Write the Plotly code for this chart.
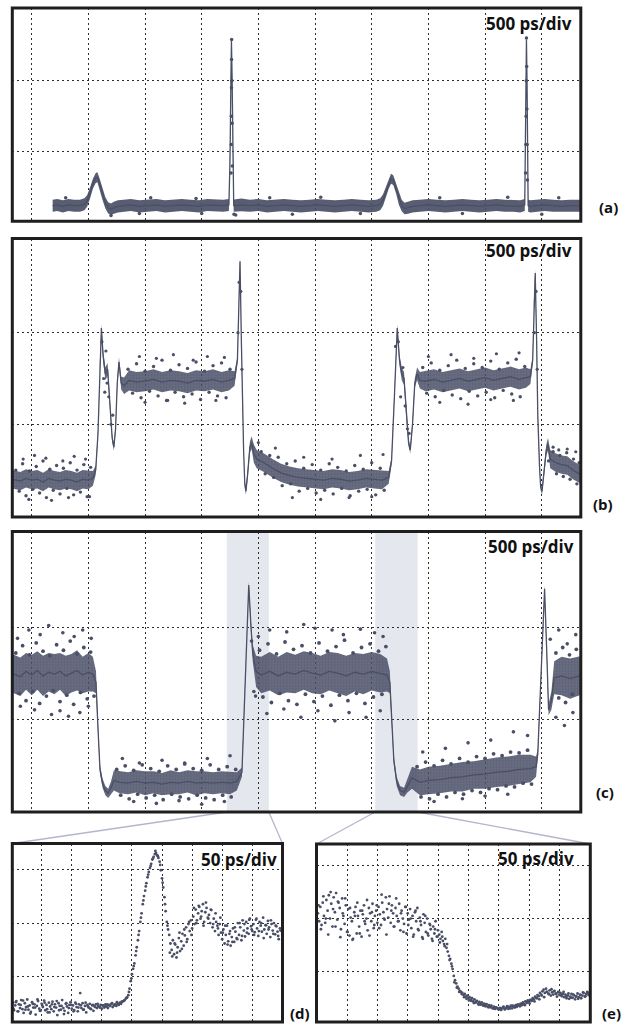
import plotly.graph_objects as go

W, H = 627, 1024
INK = "#4a4f66"
BAND = "rgba(74,79,102,0.92)"
BAND_BG = "rgba(74,79,102,0.80)"
FRAME = "#1e1e1e"
GRID = "#2e2e2e"
HILITE = "#e5e7ee"
LINK = "#b3b7cb"

# ---------------- data ----------------
grid_x_full = [1, 2, 3, 4, 5, 6, 7, 8, 9, 10]
grid_y_full = [1, 2]
grid_x_zoom = [1, 2, 3, 4, 5, 6, 7, 8]
grid_y_zoom = [1, 2, 3]

scale_labels = ["500 ps/div", "500 ps/div", "500 ps/div", "50 ps/div", "50 ps/div"]
panel_tags = ["(a)", "(b)", "(c)", "(d)", "(e)"]

# (time [div], trace centre, half-width of the dense noise band)
a_trace = [
    (1.37, 0.24, 0.085), (1.45, 0.25, 0.085), (1.55, 0.23, 0.085), (1.65, 0.25, 0.085), (1.75, 0.24, 0.085),
    (1.85, 0.24, 0.085), (1.93, 0.26, 0.085), (1.98, 0.31, 0.08), (2.03, 0.42, 0.08), (2.08, 0.55, 0.07),
    (2.13, 0.63, 0.07), (2.16, 0.64, 0.07), (2.20, 0.55, 0.07), (2.25, 0.40, 0.08), (2.30, 0.28, 0.08),
    (2.35, 0.21, 0.08), (2.40, 0.19, 0.08), (2.45, 0.21, 0.085), (2.52, 0.23, 0.085), (2.62, 0.24, 0.085),
    (2.75, 0.25, 0.085), (2.90, 0.23, 0.085), (3.05, 0.24, 0.085), (3.20, 0.25, 0.085), (3.35, 0.23, 0.085),
    (3.50, 0.24, 0.085), (3.65, 0.25, 0.085), (3.80, 0.24, 0.085), (3.95, 0.23, 0.085), (4.10, 0.25, 0.085),
    (4.25, 0.24, 0.085), (4.38, 0.24, 0.085), (4.48, 0.25, 0.085),
    (4.50, 0.90, 0.02), (4.515, 2.00, 0.02), (4.525, 2.56, 0.02), (4.535, 2.10, 0.02), (4.55, 0.90, 0.02),
    (4.565, 0.24, 0.085), (4.60, 0.24, 0.09), (4.70, 0.25, 0.09), (4.85, 0.24, 0.085), (5.00, 0.25, 0.085),
    (5.15, 0.23, 0.085), (5.30, 0.24, 0.085), (5.45, 0.25, 0.085), (5.60, 0.24, 0.085), (5.75, 0.23, 0.085),
    (5.90, 0.24, 0.085), (6.05, 0.25, 0.085), (6.20, 0.24, 0.085), (6.35, 0.23, 0.085), (6.50, 0.24, 0.085),
    (6.65, 0.25, 0.085), (6.80, 0.24, 0.085), (6.95, 0.23, 0.085), (7.08, 0.24, 0.085), (7.15, 0.26, 0.085),
    (7.20, 0.32, 0.08), (7.25, 0.43, 0.07), (7.30, 0.55, 0.07), (7.34, 0.62, 0.07), (7.38, 0.60, 0.07),
    (7.43, 0.48, 0.07), (7.48, 0.33, 0.08), (7.53, 0.24, 0.08), (7.58, 0.20, 0.08), (7.64, 0.21, 0.085),
    (7.72, 0.23, 0.085), (7.85, 0.24, 0.085), (8.00, 0.25, 0.085), (8.15, 0.24, 0.085), (8.30, 0.23, 0.085),
    (8.45, 0.24, 0.085), (8.60, 0.25, 0.085), (8.75, 0.24, 0.085), (8.90, 0.23, 0.085), (9.05, 0.24, 0.085),
    (9.20, 0.25, 0.085), (9.35, 0.24, 0.085), (9.50, 0.24, 0.085), (9.62, 0.23, 0.085), (9.70, 0.25, 0.085),
    (9.71, 0.90, 0.02), (9.72, 2.00, 0.02), (9.73, 2.58, 0.02), (9.74, 2.00, 0.02), (9.75, 0.90, 0.02),
    (9.76, 0.24, 0.085), (9.80, 0.23, 0.085), (9.92, 0.24, 0.085), (10.05, 0.25, 0.085), (10.20, 0.24, 0.085),
    (10.35, 0.23, 0.085), (10.50, 0.24, 0.085), (10.70, 0.24, 0.085),
]
a_dots = [
    (4.518, 0.7), (4.521, 1.1), (4.523, 1.5), (4.525, 1.9), (4.527, 2.3), (4.528, 2.58), (4.532, 2.0),
    (4.536, 1.4), (4.54, 0.8), (9.715, 0.7), (9.72, 1.1), (9.724, 1.5), (9.727, 2.0), (9.73, 2.6),
    (9.734, 2.2), (9.738, 1.6), (9.742, 1.1), (9.746, 0.6), (4.57, 0.12), (4.60, 0.11), (2.40, 0.10),
    (1.6, 0.35), (3.1, 0.35), (3.9, 0.34), (5.2, 0.35), (6.1, 0.36), (8.2, 0.35), (9.4, 0.36), (10.3, 0.35),
    (2.9, 0.13), (4.0, 0.13), (5.6, 0.12), (6.8, 0.13), (8.6, 0.13), (10.0, 0.12),
]

b_trace = [
    (0.66, 0.40, 0.10), (0.80, 0.38, 0.10), (0.90, 0.41, 0.10), (1.00, 0.39, 0.10), (1.10, 0.40, 0.10),
    (1.20, 0.37, 0.10), (1.30, 0.41, 0.10), (1.40, 0.39, 0.10), (1.50, 0.38, 0.10), (1.60, 0.40, 0.10),
    (1.70, 0.39, 0.10), (1.80, 0.37, 0.10), (1.90, 0.40, 0.10), (2.00, 0.39, 0.10), (2.08, 0.41, 0.08),
    (2.13, 0.50, 0.05), (2.17, 0.90, 0.04), (2.20, 1.60, 0.04), (2.23, 2.05, 0.04), (2.26, 1.75, 0.06),
    (2.30, 1.55, 0.07), (2.34, 1.60, 0.07), (2.38, 1.20, 0.05), (2.42, 0.85, 0.04), (2.45, 0.75, 0.04),
    (2.48, 0.95, 0.04), (2.51, 1.45, 0.05), (2.54, 1.68, 0.05), (2.58, 1.45, 0.07), (2.63, 1.42, 0.09),
    (2.72, 1.48, 0.11), (2.85, 1.46, 0.11), (3.00, 1.47, 0.11), (3.15, 1.49, 0.11), (3.30, 1.46, 0.11),
    (3.45, 1.48, 0.11), (3.60, 1.47, 0.11), (3.75, 1.45, 0.11), (3.90, 1.48, 0.11), (4.05, 1.47, 0.11),
    (4.20, 1.49, 0.11), (4.35, 1.46, 0.11), (4.48, 1.48, 0.11), (4.58, 1.50, 0.08), (4.63, 1.70, 0.04),
    (4.655, 2.30, 0.04), (4.676, 2.78, 0.04), (4.70, 1.90, 0.04), (4.72, 1.20, 0.04), (4.74, 0.70, 0.04),
    (4.76, 0.35, 0.04), (4.78, 0.27, 0.04), (4.81, 0.45, 0.05), (4.85, 0.75, 0.06), (4.88, 0.80, 0.07),
    (4.92, 0.68, 0.10), (4.97, 0.62, 0.10), (5.10, 0.58, 0.10), (5.25, 0.52, 0.10), (5.40, 0.47, 0.10),
    (5.55, 0.44, 0.10), (5.70, 0.42, 0.10), (5.85, 0.41, 0.10), (6.00, 0.40, 0.10), (6.15, 0.39, 0.10),
    (6.30, 0.41, 0.10), (6.45, 0.40, 0.10), (6.60, 0.38, 0.10), (6.75, 0.39, 0.10), (6.90, 0.41, 0.10),
    (7.05, 0.40, 0.10), (7.18, 0.39, 0.10), (7.30, 0.42, 0.07), (7.35, 0.60, 0.04), (7.40, 1.30, 0.04),
    (7.45, 2.05, 0.04), (7.49, 1.70, 0.06), (7.53, 1.55, 0.07), (7.57, 1.50, 0.07), (7.61, 1.10, 0.05),
    (7.65, 0.80, 0.04), (7.68, 0.72, 0.04), (7.72, 1.00, 0.04), (7.76, 1.45, 0.05), (7.80, 1.55, 0.07),
    (7.85, 1.48, 0.09), (7.95, 1.47, 0.11), (8.10, 1.49, 0.11), (8.25, 1.46, 0.11), (8.40, 1.48, 0.11),
    (8.55, 1.50, 0.11), (8.70, 1.47, 0.11), (8.85, 1.49, 0.11), (9.00, 1.51, 0.11), (9.15, 1.48, 0.11),
    (9.30, 1.50, 0.11), (9.45, 1.52, 0.11), (9.60, 1.49, 0.11), (9.72, 1.51, 0.11), (9.80, 1.52, 0.08),
    (9.84, 1.70, 0.04), (9.86, 2.30, 0.04), (9.885, 2.65, 0.04), (9.91, 1.90, 0.04), (9.93, 1.10, 0.04),
    (9.96, 0.55, 0.04), (9.98, 0.32, 0.04), (10.005, 0.27, 0.04), (10.04, 0.45, 0.05), (10.08, 0.72, 0.06),
    (10.11, 0.78, 0.07), (10.15, 0.62, 0.10), (10.25, 0.58, 0.10), (10.35, 0.56, 0.10), (10.45, 0.55, 0.10),
    (10.55, 0.50, 0.10), (10.72, 0.44, 0.10),
]
b_dots = [
    (0.85, 0.62), (1.05, 0.66), (1.25, 0.63), (1.55, 0.60), (1.75, 0.65), (1.95, 0.62),
    (0.95, 0.18), (1.35, 0.17), (1.65, 0.20), (2.02, 0.21),
    (2.24, 1.90), (2.27, 1.50), (2.29, 1.35), (2.31, 1.80), (2.33, 1.45), (2.36, 1.30), (2.40, 1.00), (2.43, 1.10),
    (2.90, 1.74), (3.20, 1.72), (3.50, 1.76), (3.85, 1.70), (4.10, 1.74), (4.40, 1.73),
    (3.00, 1.24), (3.40, 1.26), (3.70, 1.23), (4.25, 1.26),
    (4.64, 2.00), (4.66, 2.55), (4.69, 2.45), (4.71, 1.60),
    (5.00, 0.80), (5.30, 0.74), (5.80, 0.64), (6.30, 0.62), (6.80, 0.66), (7.20, 0.67),
    (5.60, 0.20), (6.10, 0.18), (6.60, 0.20), (7.00, 0.21),
    (7.42, 1.85), (7.47, 1.90), (7.51, 1.30), (7.55, 1.62), (7.59, 1.20), (7.63, 0.95), (7.66, 0.90),
    (8.00, 1.74), (8.40, 1.76), (8.80, 1.72), (9.20, 1.77), (9.60, 1.78),
    (8.20, 1.24), (8.70, 1.22), (9.10, 1.27), (9.50, 1.26),
    (9.87, 2.00), (9.90, 2.45), (9.92, 1.60),
    (10.12, 0.60), (10.20, 0.75), (10.30, 0.72), (10.45, 0.73), (10.60, 0.70),
]
# ragged fringe of the noise cloud in (b)
b_fringe = [
    (0.72, 0.50), (0.84, 0.57), (0.96, 0.49), (1.08, 0.54), (1.20, 0.60), (1.32, 0.51), (1.44, 0.55),
    (1.56, 0.52), (1.68, 0.58), (1.80, 0.50), (1.92, 0.56), (2.04, 0.53),
    (0.78, 0.27), (0.90, 0.22), (1.02, 0.29), (1.14, 0.25), (1.26, 0.20), (1.38, 0.28), (1.50, 0.24),
    (1.62, 0.30), (1.74, 0.23), (1.86, 0.26), (1.98, 0.21),
    (2.70, 1.60), (2.85, 1.66), (3.00, 1.58), (3.15, 1.63), (3.30, 1.70), (3.45, 1.59), (3.60, 1.65),
    (3.75, 1.61), (3.90, 1.68), (4.05, 1.58), (4.20, 1.64), (4.35, 1.67), (4.50, 1.60),
    (2.78, 1.34), (2.93, 1.29), (3.08, 1.36), (3.23, 1.31), (3.38, 1.26), (3.53, 1.35), (3.68, 1.30),
    (3.83, 1.33), (3.98, 1.27), (4.13, 1.35), (4.28, 1.31), (4.43, 1.29),
    (5.05, 0.70), (5.20, 0.66), (5.35, 0.64), (5.50, 0.57), (5.65, 0.60), (5.80, 0.52), (5.95, 0.56),
    (6.10, 0.50), (6.25, 0.57), (6.40, 0.53), (6.55, 0.49), (6.70, 0.55), (6.85, 0.51), (7.00, 0.58), (7.15, 0.52),
    (5.12, 0.46), (5.27, 0.42), (5.42, 0.33), (5.57, 0.35), (5.72, 0.27), (5.87, 0.30), (6.02, 0.25),
    (6.17, 0.28), (6.32, 0.24), (6.47, 0.30), (6.62, 0.22), (6.77, 0.27), (6.92, 0.29), (7.07, 0.23), (7.22, 0.28),
    (7.90, 1.62), (8.05, 1.67), (8.20, 1.59), (8.35, 1.64), (8.50, 1.70), (8.65, 1.61), (8.80, 1.66),
    (8.95, 1.62), (9.10, 1.69), (9.25, 1.60), (9.40, 1.67), (9.55, 1.71), (9.70, 1.63),
    (7.97, 1.34), (8.12, 1.30), (8.27, 1.37), (8.42, 1.32), (8.57, 1.28), (8.72, 1.36), (8.87, 1.31),
    (9.02, 1.35), (9.17, 1.29), (9.32, 1.37), (9.47, 1.33), (9.62, 1.30),
    (10.20, 0.70), (10.32, 0.66), (10.44, 0.69), (10.56, 0.62), (10.66, 0.58),
    (10.26, 0.46), (10.38, 0.43), (10.50, 0.40), (10.62, 0.35),
]

c_trace = [
    (0.65, 1.50, 0.21), (0.80, 1.46, 0.21), (0.90, 1.52, 0.20), (1.00, 1.48, 0.22), (1.10, 1.53, 0.21),
    (1.20, 1.47, 0.22), (1.30, 1.51, 0.21), (1.40, 1.49, 0.22), (1.50, 1.52, 0.20), (1.60, 1.47, 0.22),
    (1.70, 1.50, 0.21), (1.80, 1.53, 0.22), (1.90, 1.48, 0.20), (2.00, 1.51, 0.21), (2.08, 1.49, 0.19),
    (2.135, 1.40, 0.12), (2.17, 0.90, 0.05), (2.205, 0.45, 0.05), (2.25, 0.30, 0.05), (2.30, 0.22, 0.05),
    (2.35, 0.19, 0.05), (2.40, 0.25, 0.07), (2.45, 0.33, 0.11), (2.55, 0.31, 0.12), (2.70, 0.30, 0.12),
    (2.85, 0.32, 0.12), (3.00, 0.30, 0.13), (3.15, 0.31, 0.12), (3.30, 0.29, 0.12), (3.45, 0.31, 0.13),
    (3.60, 0.30, 0.12), (3.75, 0.32, 0.12), (3.90, 0.30, 0.13), (4.05, 0.31, 0.12), (4.20, 0.30, 0.12),
    (4.35, 0.31, 0.12), (4.50, 0.30, 0.12), (4.62, 0.32, 0.10), (4.71, 0.42, 0.05), (4.76, 1.20, 0.04),
    (4.80, 2.00, 0.04), (4.83, 2.46, 0.04), (4.87, 2.00, 0.06), (4.90, 1.72, 0.09), (4.96, 1.52, 0.17),
    (5.05, 1.48, 0.20), (5.20, 1.52, 0.21), (5.35, 1.47, 0.21), (5.50, 1.51, 0.22), (5.65, 1.49, 0.21),
    (5.80, 1.53, 0.21), (5.95, 1.50, 0.22), (6.10, 1.48, 0.21), (6.25, 1.52, 0.21), (6.40, 1.50, 0.22),
    (6.55, 1.47, 0.22), (6.70, 1.51, 0.21), (6.85, 1.49, 0.22), (7.00, 1.52, 0.21), (7.15, 1.50, 0.21),
    (7.27, 1.48, 0.18), (7.32, 1.40, 0.12), (7.36, 0.90, 0.05), (7.39, 0.55, 0.05), (7.44, 0.32, 0.05),
    (7.50, 0.22, 0.05), (7.57, 0.20, 0.05), (7.63, 0.27, 0.07), (7.71, 0.36, 0.12), (7.85, 0.31, 0.14),
    (8.00, 0.33, 0.15), (8.20, 0.34, 0.15), (8.40, 0.36, 0.15), (8.60, 0.37, 0.16), (8.80, 0.39, 0.15),
    (9.00, 0.40, 0.16), (9.20, 0.42, 0.16), (9.40, 0.43, 0.16), (9.60, 0.45, 0.16), (9.80, 0.46, 0.15),
    (9.90, 0.48, 0.11), (9.93, 0.62, 0.05), (9.98, 1.30, 0.04), (10.03, 2.10, 0.04), (10.05, 2.42, 0.04),
    (10.09, 1.70, 0.05), (10.12, 1.10, 0.06), (10.17, 1.20, 0.10), (10.22, 1.45, 0.18), (10.35, 1.47, 0.21),
    (10.50, 1.44, 0.22), (10.72, 1.48, 0.21),
]
c_dots = [
    (0.75, 1.88), (0.95, 1.97), (1.15, 1.92), (1.30, 2.02), (1.55, 1.94), (1.75, 1.90), (1.90, 1.97), (2.05, 1.88),
    (0.80, 1.14), (1.05, 1.10), (1.35, 1.05), (1.50, 1.09), (1.65, 1.03), (1.85, 1.07), (2.00, 1.14),
    (2.60, 0.57), (2.90, 0.52), (3.30, 0.55), (3.70, 0.52), (4.10, 0.57), (4.50, 0.60),
    (2.80, 0.10), (3.20, 0.08), (3.60, 0.11), (4.00, 0.07), (4.40, 0.10),
    (4.88, 1.85), (4.92, 1.30), (4.95, 1.25), (5.00, 1.90),
    (5.20, 1.97), (5.50, 1.95), (5.80, 2.03), (6.00, 1.99), (6.30, 1.97), (6.50, 1.92), (6.80, 1.98),
    (7.05, 1.94), (7.20, 1.90),
    (5.15, 1.06), (5.45, 1.11), (5.75, 1.02), (6.05, 1.09), (6.35, 0.98), (6.60, 1.07), (6.90, 1.02), (7.15, 1.09),
    (7.90, 0.64), (8.30, 0.68), (8.70, 0.74), (9.10, 0.77), (9.50, 0.86), (9.75, 0.82),
    (8.10, 0.10), (8.60, 0.13), (9.00, 0.16), (9.40, 0.18),
    (10.15, 1.87), (10.30, 1.97), (10.45, 1.82), (10.60, 1.92), (10.25, 1.02), (10.40, 0.93), (10.55, 1.07),
]
# ragged fringe of the noise cloud in (c)
c_fringe = [
    (0.72, 1.72), (0.84, 1.80), (0.96, 1.70), (1.08, 1.83), (1.20, 1.74), (1.32, 1.69), (1.44, 1.81),
    (1.56, 1.75), (1.68, 1.85), (1.80, 1.71), (1.92, 1.78), (2.04, 1.73),
    (0.78, 1.28), (0.90, 1.20), (1.02, 1.30), (1.14, 1.17), (1.26, 1.25), (1.38, 1.31), (1.50, 1.19),
    (1.62, 1.26), (1.74, 1.16), (1.86, 1.29), (1.98, 1.22), (2.10, 1.25),
    (2.50, 0.45), (2.65, 0.49), (2.80, 0.44), (2.95, 0.50), (3.10, 0.46), (3.25, 0.43), (3.40, 0.49),
    (3.55, 0.45), (3.70, 0.51), (3.85, 0.46), (4.00, 0.44), (4.15, 0.50), (4.30, 0.45), (4.45, 0.48), (4.60, 0.45),
    (2.57, 0.17), (2.72, 0.13), (2.87, 0.18), (3.02, 0.14), (3.17, 0.17), (3.32, 0.12), (3.47, 0.18),
    (3.62, 0.15), (3.77, 0.13), (3.92, 0.17), (4.07, 0.14), (4.22, 0.12), (4.37, 0.17), (4.52, 0.15),
    (5.02, 1.75), (5.17, 1.82), (5.32, 1.71), (5.47, 1.84), (5.62, 1.76), (5.77, 1.80), (5.92, 1.72),
    (6.07, 1.83), (6.22, 1.74), (6.37, 1.79), (6.52, 1.86), (6.67, 1.72), (6.82, 1.78), (6.97, 1.82),
    (7.12, 1.74), (7.25, 1.79),
    (5.08, 1.24), (5.23, 1.18), (5.38, 1.28), (5.53, 1.20), (5.68, 1.16), (5.83, 1.27), (5.98, 1.19),
    (6.13, 1.25), (6.28, 1.15), (6.43, 1.26), (6.58, 1.20), (6.73, 1.28), (6.88, 1.17), (7.03, 1.24), (7.18, 1.27),
    (7.80, 0.48), (7.95, 0.53), (8.10, 0.49), (8.25, 0.55), (8.40, 0.51), (8.55, 0.57), (8.70, 0.53),
    (8.85, 0.59), (9.00, 0.57), (9.15, 0.62), (9.30, 0.60), (9.45, 0.64), (9.60, 0.63), (9.75, 0.66),
    (7.87, 0.15), (8.02, 0.13), (8.17, 0.18), (8.32, 0.15), (8.47, 0.20), (8.62, 0.18), (8.77, 0.22),
    (8.92, 0.20), (9.07, 0.24), (9.22, 0.23), (9.37, 0.27), (9.52, 0.26), (9.67, 0.30), (9.82, 0.29),
    (10.25, 1.72), (10.37, 1.78), (10.49, 1.70), (10.61, 1.76), (10.30, 1.23), (10.42, 1.18), (10.54, 1.27),
]

# highlighted windows of (c) that are magnified in (d) and (e)
c_window_start = [4.443, 7.061]
c_window_end = [5.184, 7.810]

# (d) and (e): sampled points (two interleaved acquisitions), first sample time and spacing in div
d_t0, d_dt = 0.04, 0.04
d_vals = [
    0.52, 0.38, 0.47, 0.55, 0.36, 0.49, 0.42, 0.57, 0.40, 0.33, 0.51, 0.44, 0.58, 0.39, 0.47, 0.35, 0.53, 0.43, 0.49, 0.30, 0.46, 0.55, 0.41, 0.37, 0.50,
    0.44, 0.56, 0.38, 0.48, 0.34, 0.52, 0.45, 0.40, 0.54, 0.36, 0.49, 0.43, 0.29, 0.51, 0.46, 0.39, 0.57, 0.42, 0.37, 0.50, 0.45, 0.33, 0.48, 0.53, 0.41,
    0.47, 0.38, 0.52, 0.44, 0.36, 0.49, 0.70, 0.42, 0.51, 0.39, 0.46, 0.34, 0.48, 0.43, 0.50, 0.40, 0.47, 0.37, 0.45, 0.49, 0.42, 0.46, 0.44, 0.48, 0.41,
    0.47, 0.43, 0.49, 0.45, 0.42, 0.48, 0.46, 0.50, 0.44, 0.47, 0.49, 0.46, 0.50, 0.48, 0.52, 0.50, 0.54, 0.55, 0.57, 0.60, 0.62, 0.66, 0.78, 0.92, 1.05,
    1.15, 1.25, 1.40, 1.55, 1.68, 1.85, 2.02, 2.18, 2.35, 2.50, 2.60, 2.74, 2.85, 2.95, 3.02, 3.10, 3.18, 3.23, 3.28, 3.30, 3.26, 3.21, 3.14, 2.98, 2.83,
    2.66, 2.48, 2.22, 2.02, 1.88, 1.78, 1.62, 1.50, 1.68, 1.42, 1.60, 1.36, 1.55, 1.72, 1.48, 1.66, 1.80, 1.58, 1.77, 1.92, 1.70, 1.98, 1.85, 2.05, 1.90,
    2.12, 1.98, 2.25, 2.05, 2.18, 2.30, 2.08, 2.22, 2.35, 2.02, 2.20, 2.28, 2.10, 2.15, 2.00, 2.24, 1.92, 2.08, 1.85, 2.02, 1.95, 1.78, 1.98, 1.82, 1.70,
    1.88, 1.62, 1.78, 1.95, 1.66, 1.80, 1.58, 1.74, 1.90, 1.65, 1.84, 1.72, 2.00, 1.78, 1.92, 1.68, 2.05, 1.86, 1.75, 2.02, 1.90, 1.80, 2.08, 1.94, 1.85,
    1.98, 1.83, 2.06, 1.90, 1.76, 2.02, 1.95, 1.84, 2.10, 1.88, 1.96, 1.80, 2.04, 1.92, 1.74, 1.98, 1.86, 2.00, 1.79, 1.94, 1.84, 1.70, 1.90,
]
d2_t0, d2_dt = 0.06, 0.08
d2_vals = [
    0.41, 0.53, 0.36, 0.48, 0.56, 0.39, 0.45, 0.32, 0.50, 0.43, 0.58, 0.37, 0.47, 0.52, 0.40, 0.34, 0.49, 0.44, 0.55, 0.38, 0.46, 0.31, 0.51, 0.42, 0.48,
    0.36, 0.50, 0.43, 0.47, 0.39, 0.52, 0.45, 0.41, 0.48, 0.44, 0.50, 0.43, 0.47, 0.45, 0.49, 0.46, 0.51, 0.48, 0.53, 0.50, 0.54, 0.56, 0.61, 0.72, 0.97,
    1.20, 1.48, 1.78, 2.10, 2.42, 2.68, 2.90, 3.06, 3.20, 3.34, 3.24, 3.08, 2.75, 2.35, 1.95, 1.45, 1.38, 1.62, 1.45, 1.82, 1.52, 1.88, 1.65, 2.02, 1.78,
    2.28, 2.00, 2.32, 2.12, 1.95, 2.38, 2.08, 2.25, 1.98, 2.18, 1.90, 2.10, 1.82, 1.95, 1.60, 1.85, 1.65, 1.92, 1.70, 2.00, 1.76, 1.98, 1.82, 2.06, 1.88,
    1.78, 2.08, 1.85, 2.00, 1.72, 1.96, 1.88, 2.05, 1.80, 1.95, 1.76, 1.86,
]
e_t0, e_dt = 0.04, 0.04
e_vals = [
    2.10, 1.95, 2.22, 1.88, 2.30, 2.05, 1.92, 2.35, 2.15, 2.44, 2.00, 2.28, 1.85, 2.40, 2.12, 2.48, 1.98, 2.30, 2.20, 1.80, 2.38, 2.05, 1.90, 2.25, 1.75,
    2.18, 1.68, 2.02, 1.95, 1.62, 2.12, 2.22, 1.72, 2.05, 1.85, 2.15, 1.66, 2.08, 2.25, 1.90, 2.00, 1.78, 2.20, 2.10, 1.95, 2.28, 1.82, 2.05, 2.15, 1.92,
    2.22, 2.08, 1.88, 2.30, 2.12, 1.98, 2.40, 2.18, 2.02, 2.42, 1.92, 2.25, 2.10, 1.85, 2.20, 2.05, 1.95, 2.28, 1.78, 2.15, 2.00, 1.90, 2.22, 1.72, 2.10,
    1.98, 2.18, 1.82, 2.05, 1.70, 2.12, 1.95, 2.20, 1.78, 2.02, 1.88, 1.65, 2.08, 1.92, 1.75, 2.00, 1.68, 1.90, 1.80, 1.62, 1.85, 1.72, 1.95, 1.66, 1.78,
    1.70, 1.62, 1.75, 1.58, 1.52, 1.62, 1.45, 1.38, 1.30, 1.24, 1.15, 1.05, 0.92, 0.84, 0.78, 0.72, 0.68, 0.64, 0.62, 0.60, 0.56, 0.58, 0.53, 0.55, 0.50,
    0.52, 0.47, 0.50, 0.44, 0.48, 0.42, 0.45, 0.40, 0.43, 0.38, 0.42, 0.37, 0.40, 0.35, 0.39, 0.34, 0.37, 0.33, 0.36, 0.31, 0.34, 0.30, 0.33, 0.31, 0.29,
    0.32, 0.28, 0.31, 0.34, 0.29, 0.32, 0.35, 0.30, 0.33, 0.36, 0.31, 0.35, 0.33, 0.37, 0.34, 0.38, 0.36, 0.40, 0.37, 0.42, 0.39, 0.44, 0.41, 0.46, 0.43,
    0.47, 0.45, 0.50, 0.48, 0.53, 0.51, 0.56, 0.54, 0.60, 0.57, 0.63, 0.66, 0.60, 0.68, 0.62, 0.58, 0.65, 0.55, 0.61, 0.57, 0.64, 0.59, 0.53, 0.62, 0.56,
    0.60, 0.54, 0.58, 0.52, 0.57, 0.50, 0.55, 0.49, 0.53, 0.58, 0.51, 0.56, 0.48, 0.54, 0.59, 0.52, 0.57, 0.50, 0.55, 0.60, 0.53, 0.58, 0.62, 0.56,
]
e2_t0, e2_dt = 0.06, 0.08
e2_vals = [
    2.25, 1.80, 2.42, 2.00, 1.70, 2.50, 2.18, 1.85, 2.32, 1.65, 2.10, 2.38, 1.75, 2.20, 1.60, 2.05, 2.30, 1.72, 2.15, 1.95, 2.35, 1.68, 2.12, 1.88, 2.25,
    1.82, 2.45, 2.00, 1.70, 2.28, 2.15, 1.85, 2.38, 1.95, 2.10, 1.75, 2.22, 1.88, 2.00, 1.66, 2.15, 1.80, 1.95, 1.62, 2.05, 1.72, 1.88, 1.58, 1.80, 1.66,
    1.55, 1.66, 1.48, 1.52, 1.22, 1.10, 0.80, 0.70, 0.62, 0.58, 0.52, 0.49, 0.46, 0.45, 0.41, 0.44, 0.38, 0.40, 0.36, 0.38, 0.33, 0.35, 0.31, 0.33, 0.30,
    0.29, 0.33, 0.30, 0.34, 0.31, 0.36, 0.33, 0.38, 0.35, 0.40, 0.37, 0.43, 0.40, 0.46, 0.44, 0.50, 0.48, 0.55, 0.52, 0.62, 0.58, 0.67, 0.63, 0.58, 0.61,
    0.56, 0.62, 0.54, 0.59, 0.51, 0.57, 0.53, 0.49, 0.56, 0.61, 0.54, 0.60,
]

# ---------------- layout geometry (pixels) ----------------
# box = (left, right, top, bottom) of each frame; xr / yr = axis ranges in div
panels = [
    dict(box=(12.3, 580.8, 8.0, 221.3), xr=(0.658, 10.689), yr=(0.020, 3.024), gx=grid_x_full, gy=grid_y_full),
    dict(box=(12.3, 580.8, 238.5, 517.0), xr=(0.658, 10.689), yr=(-0.012, 3.028), gx=grid_x_full, gy=grid_y_full),
    dict(box=(12.3, 580.8, 531.5, 812.0), xr=(0.658, 10.689), yr=(-0.014, 3.045), gx=grid_x_full, gy=grid_y_full),
    dict(box=(12.3, 282.5, 843.5, 1022.0), xr=(0.023, 9.005), yr=(0.162, 3.477), gx=grid_x_zoom, gy=grid_y_zoom),
    dict(box=(316.5, 590.3, 844.0, 1022.0), xr=(-0.006, 9.020), yr=(0.053, 3.405), gx=grid_x_zoom, gy=grid_y_zoom),
]
scale_pos = [(574, 23.0), (574, 250.8), (576, 546.7), (278.5, 859.3), (576, 858.3)]
tag_pos = [(608, 206.7), (603, 504.3), (604.5, 791.7), (300, 1012.5), (611, 1012.5)]

fig = go.Figure()


def ax(i):
    return ("x" if i == 0 else f"x{i+1}"), ("y" if i == 0 else f"y{i+1}")


def add_band(i, trace, textured):
    xa, ya = ax(i)
    xs = [p[0] for p in trace]
    up = [p[1] + p[2] for p in trace]
    lo = [p[1] - p[2] for p in trace]
    kw = dict(fillcolor=BAND)
    if textured:
        kw = dict(fillcolor=BAND_BG,
                  fillpattern=dict(shape=".", fgcolor=INK, bgcolor=BAND_BG, size=3, solidity=0.5))
    fig.add_trace(go.Scatter(x=xs + xs[::-1], y=up + lo[::-1], fill="toself",
                             mode="lines", line=dict(width=0), hoverinfo="skip", showlegend=False,
                             xaxis=xa, yaxis=ya, **kw))
    fig.add_trace(go.Scatter(x=xs, y=[p[1] for p in trace], mode="lines",
                             line=dict(color=INK, width=1.3), hoverinfo="skip", showlegend=False,
                             xaxis=xa, yaxis=ya))


def add_dots(i, xs, ys, size=3.0):
    xa, ya = ax(i)
    fig.add_trace(go.Scatter(x=xs, y=ys, mode="markers",
                             marker=dict(color=INK, size=size, line=dict(width=0)),
                             hoverinfo="skip", showlegend=False, xaxis=xa, yaxis=ya))


def add_pairs(i, pairs, size=3.0):
    add_dots(i, [p[0] for p in pairs], [p[1] for p in pairs], size)


add_band(0, a_trace, False)
add_pairs(0, a_dots, 3.5)
add_band(1, b_trace, True)
add_pairs(1, b_dots, 3.2)
add_pairs(1, b_fringe, 3.4)
add_band(2, c_trace, True)
add_pairs(2, c_dots, 3.6)
add_pairs(2, c_fringe, 3.8)
add_dots(3, [d_t0 + d_dt * k for k in range(len(d_vals))], d_vals, 2.8)
add_dots(3, [d2_t0 + d2_dt * k for k in range(len(d2_vals))], d2_vals, 2.8)
add_dots(4, [e_t0 + e_dt * k for k in range(len(e_vals))], e_vals, 2.8)
add_dots(4, [e2_t0 + e2_dt * k for k in range(len(e2_vals))], e2_vals, 2.8)

layout = dict(width=W, height=H, margin=dict(l=0, r=0, t=0, b=0),
              paper_bgcolor="white", plot_bgcolor="rgba(0,0,0,0)", showlegend=False)
shapes, annos = [], []
for i, p in enumerate(panels):
    l, r, t, b = p["box"]
    xa, ya = ax(i)
    xkey = "xaxis" if i == 0 else f"xaxis{i+1}"
    ykey = "yaxis" if i == 0 else f"yaxis{i+1}"
    common = dict(showticklabels=False, ticks="", zeroline=False, showline=False, fixedrange=True,
                  showgrid=True, gridcolor=GRID, gridwidth=1, griddash="2px,3px")
    layout[xkey] = dict(domain=[l / W, r / W], range=list(p["xr"]), tickvals=p["gx"], anchor=ya, **common)
    layout[ykey] = dict(domain=[1 - b / H, 1 - t / H], range=list(p["yr"]), tickvals=p["gy"], anchor=xa, **common)
    shapes.append(dict(type="rect", xref=f"{xa} domain", yref=f"{ya} domain", x0=0, x1=1, y0=0, y1=1,
                       line=dict(color=FRAME, width=3), fillcolor="rgba(0,0,0,0)", layer="above"))
    sx, sy = scale_pos[i]
    annos.append(dict(text=f"<b>{scale_labels[i]}</b>", x=sx / W, y=1 - sy / H, xref="paper", yref="paper",
                      xanchor="right", yanchor="middle", showarrow=False,
                      font=dict(family="Open Sans", size=17, color="#111")))
    tx, ty = tag_pos[i]
    annos.append(dict(text=f"<b>{panel_tags[i]}</b>", x=tx / W, y=1 - ty / H, xref="paper", yref="paper",
                      xanchor="center", yanchor="middle", showarrow=False,
                      font=dict(family="Open Sans", size=15, color="#111")))

# highlighted windows in (c)
for s, e in zip(c_window_start, c_window_end):
    shapes.append(dict(type="rect", xref="x3", yref="y3 domain", x0=s, x1=e, y0=0, y1=1,
                       fillcolor=HILITE, line=dict(width=0), layer="below"))


def paper_x(i, v):
    l, r, _, _ = panels[i]["box"]
    x0, x1 = panels[i]["xr"]
    return (l + (v - x0) / (x1 - x0) * (r - l)) / W


c_bottom = 1 - panels[2]["box"][3] / H
links = [
    (paper_x(2, c_window_start[0]), panels[3]["box"][0] / W, 1 - panels[3]["box"][2] / H),
    (paper_x(2, c_window_end[0]), panels[3]["box"][1] / W, 1 - panels[3]["box"][2] / H),
    (paper_x(2, c_window_start[1]), panels[4]["box"][0] / W, 1 - panels[4]["box"][2] / H),
    (paper_x(2, c_window_end[1]), panels[4]["box"][1] / W, 1 - panels[4]["box"][2] / H),
]
for xs_, xe_, ye_ in links:
    shapes.append(dict(type="line", xref="paper", yref="paper", x0=xs_, y0=c_bottom, x1=xe_, y1=ye_,
                       line=dict(color=LINK, width=1.3), layer="below"))

layout["shapes"] = shapes
layout["annotations"] = annos
fig.update_layout(**layout)

fig.write_html("out.html", config={"displayModeBar": False},
               post_script="document.body.style.margin='0';document.body.style.overflow='hidden';")
